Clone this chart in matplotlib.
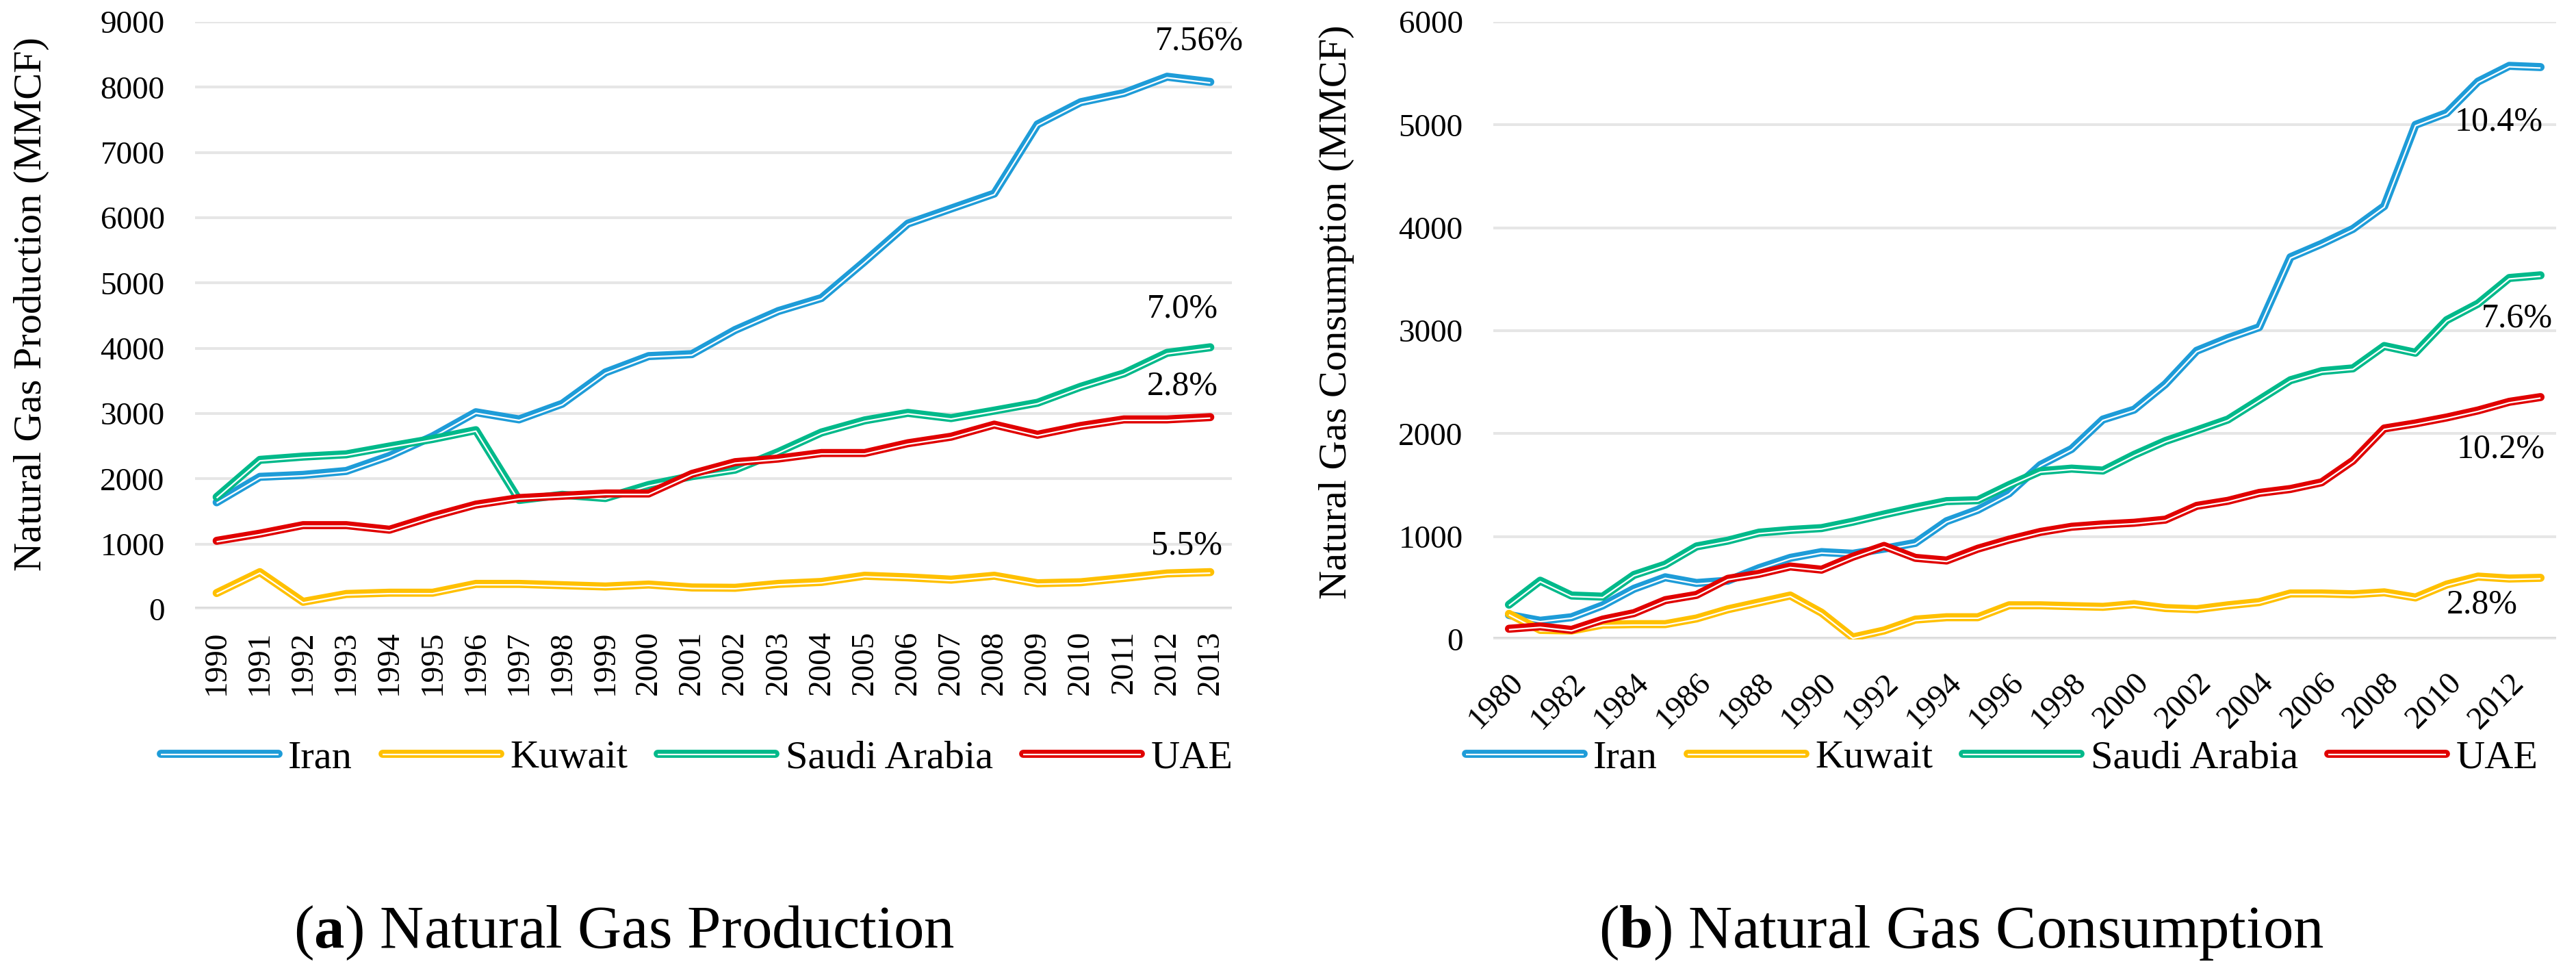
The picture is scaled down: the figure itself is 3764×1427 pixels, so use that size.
import numpy as np
import matplotlib
matplotlib.use("Agg")
import matplotlib.pyplot as plt
import matplotlib.patheffects as pe

plt.rcParams['font.family'] = ['Liberation Serif', 'DejaVu Serif']
plt.rcParams['mathtext.fontset'] = 'custom'
plt.rcParams['mathtext.rm'] = 'Liberation Serif'
plt.rcParams['mathtext.bf'] = 'Liberation Serif:bold'

# (a) production 1990-2013
years_p = [str(y) for y in range(1990, 2014)]
iran_p = [1640, 2030, 2060, 2120, 2350, 2650, 3020, 2910, 3150, 3630, 3880, 3910,
          4280, 4570, 4770, 5330, 5910, 6140, 6370, 7430, 7770, 7910, 8160, 8080]
kuwait_p = [250, 570, 115, 235, 255, 255, 390, 390, 370, 350, 380, 335,
            330, 390, 420, 515, 490, 455, 515, 400, 415, 480, 550, 570]
saudi_p = [1720, 2290, 2340, 2375, 2495, 2610, 2745, 1675, 1755, 1705, 1905, 2040,
           2140, 2410, 2710, 2895, 3010, 2930, 3045, 3165, 3410, 3615, 3930, 4015]
uae_p = [1050, 1160, 1290, 1290, 1220, 1425, 1605, 1705, 1740, 1775, 1775, 2075,
         2255, 2310, 2395, 2395, 2545, 2645, 2830, 2675, 2810, 2910, 2910, 2945]
notes_p = ['7.56%', '7.0%', '2.8%', '5.5%']
notes_p_xy = [(22.75, 8700), (22.35, 4600), (22.35, 3420), (22.45, 975)]

# (b) consumption 1980-2013
years_c = [str(y) for y in range(1980, 2014)]
iran_c = [238, 182, 216, 331, 493, 604, 549, 571, 693, 793, 849, 833, 882, 938, 1149, 1260,
          1420, 1695, 1851, 2137, 2233, 2481, 2805, 2928, 3034, 3714, 3844, 3989, 4210,
          5000, 5115, 5420, 5573, 5561]
kuwait_c = [249, 93, 87, 144, 149, 149, 204, 293, 360, 427, 260, 20, 87, 193, 216, 216,
            332, 332, 324, 317, 343, 305, 294, 332, 363, 447, 447, 439, 458, 408, 534,
            611, 592, 599]
saudi_c = [338, 571, 427, 416, 627, 727, 904, 960, 1038, 1064, 1082, 1144, 1215, 1282, 1344,
           1353, 1500, 1635, 1660, 1641, 1794, 1928, 2031, 2137, 2328, 2519, 2607, 2634,
           2851, 2786, 3103, 3263, 3512, 3538]
uae_c = [104, 127, 93, 193, 256, 382, 433, 589, 638, 709, 678, 804, 909, 793, 767, 882,
         970, 1045, 1095, 1118, 1134, 1164, 1298, 1347, 1424, 1462, 1527, 1737, 2050, 2099,
         2157, 2225, 2309, 2355]
notes_c = ['10.4%', '7.6%', '10.2%', '2.8%']
notes_c_xy = [(31.66, 5030), (32.25, 3120), (31.72, 1850), (31.13, 335)]

names = ['Iran', 'Kuwait', 'Saudi Arabia', 'UAE']
colors = ['#1E9CD8', '#FFC000', '#00B98A', '#E00000']

W, H = 3764, 1427
fig = plt.figure(figsize=(W / 100, H / 100), dpi=100)

ax1 = fig.add_axes([285 / W, 1 - 890 / H, 1515 / W, 858 / H])
ax2 = fig.add_axes([2182 / W, 1 - 934 / H, 1553 / W, 902 / H])


def draw_line(ax, y, color, name):
    x = np.arange(len(y))
    # double line: thick coloured stroke with a thin white line inside
    effects = [pe.Stroke(linewidth=8.5, foreground=color, capstyle='round', joinstyle='round'),
               pe.Stroke(linewidth=1.6, foreground='white', offset=(0, -1.0),
                         capstyle='butt', joinstyle='round')]
    ax.plot(x, y, color=color, lw=8.5, label=name, path_effects=effects, zorder=3)


def style(ax, ymax, ylabel, labelx, labely):
    ax.set_ylim(0, ymax)
    ax.set_yticks(np.arange(0, ymax + 1, 1000))
    for s in ax.spines.values():
        s.set_visible(False)
    ax.grid(axis='y', color='#E6E6E6', lw=2.9, zorder=0)
    ax.axhline(0, color='#D9D9D9', lw=5.5, zorder=1)
    ax.tick_params(length=0, labelsize=34)
    ax.tick_params(axis='y', pad=32)
    ax.set_ylabel(ylabel, fontsize=42)
    ax.yaxis.set_label_coords(labelx, labely)
    ax.yaxis.label.set_verticalalignment('center')


for y, c, n in zip([iran_p, kuwait_p, saudi_p, uae_p], colors, names):
    draw_line(ax1, y, c, n)
for y, c, n in zip([iran_c, kuwait_c, saudi_c, uae_c], colors, names):
    draw_line(ax2, y, c, n)

style(ax1, 9000, 'Natural Gas Production (MMCF)', -0.158, 0.52)
style(ax2, 6000, 'Natural Gas Consumption (MMCF)', -0.1475, 0.53)

ax1.set_xlim(-0.5, len(years_p) - 0.5)
ax1.set_xticks(np.arange(len(years_p)))
ax1.set_xticklabels(years_p, rotation=90)
ax1.tick_params(axis='x', pad=22)

ax2.set_xlim(-0.5, len(years_c) - 0.5)
ax2.set_xticks(np.arange(0, len(years_c), 2))
ax2.set_xticklabels(years_c[::2], rotation=45, ha='right', rotation_mode='anchor')
ax2.tick_params(axis='x', pad=30)

for t, (x, y) in zip(notes_p, notes_p_xy):
    ax1.text(x, y, t, fontsize=36, ha='center', va='center', zorder=5)
for t, (x, y) in zip(notes_c, notes_c_xy):
    ax2.text(x, y, t, fontsize=36, ha='center', va='center', zorder=5)

for ax, cx in [(ax1, 1018 / W), (ax2, 2925 / W)]:
    h, l = ax.get_legend_handles_labels()
    fig.legend(h, l, loc='center', bbox_to_anchor=(cx, 1 - 1107 / H), ncol=4,
               frameon=False, fontsize=42, handlelength=2.95, handletextpad=0.25,
               columnspacing=0.75)

fig.text(912 / W, 43 / H, r'($\mathbf{a}$) Natural Gas Production', fontsize=64,
         ha='center', va='baseline')
fig.text(2866 / W, 43 / H, r'($\mathbf{b}$) Natural Gas Consumption', fontsize=64,
         ha='center', va='baseline')

fig.savefig('out.png', dpi=100, facecolor='white')
